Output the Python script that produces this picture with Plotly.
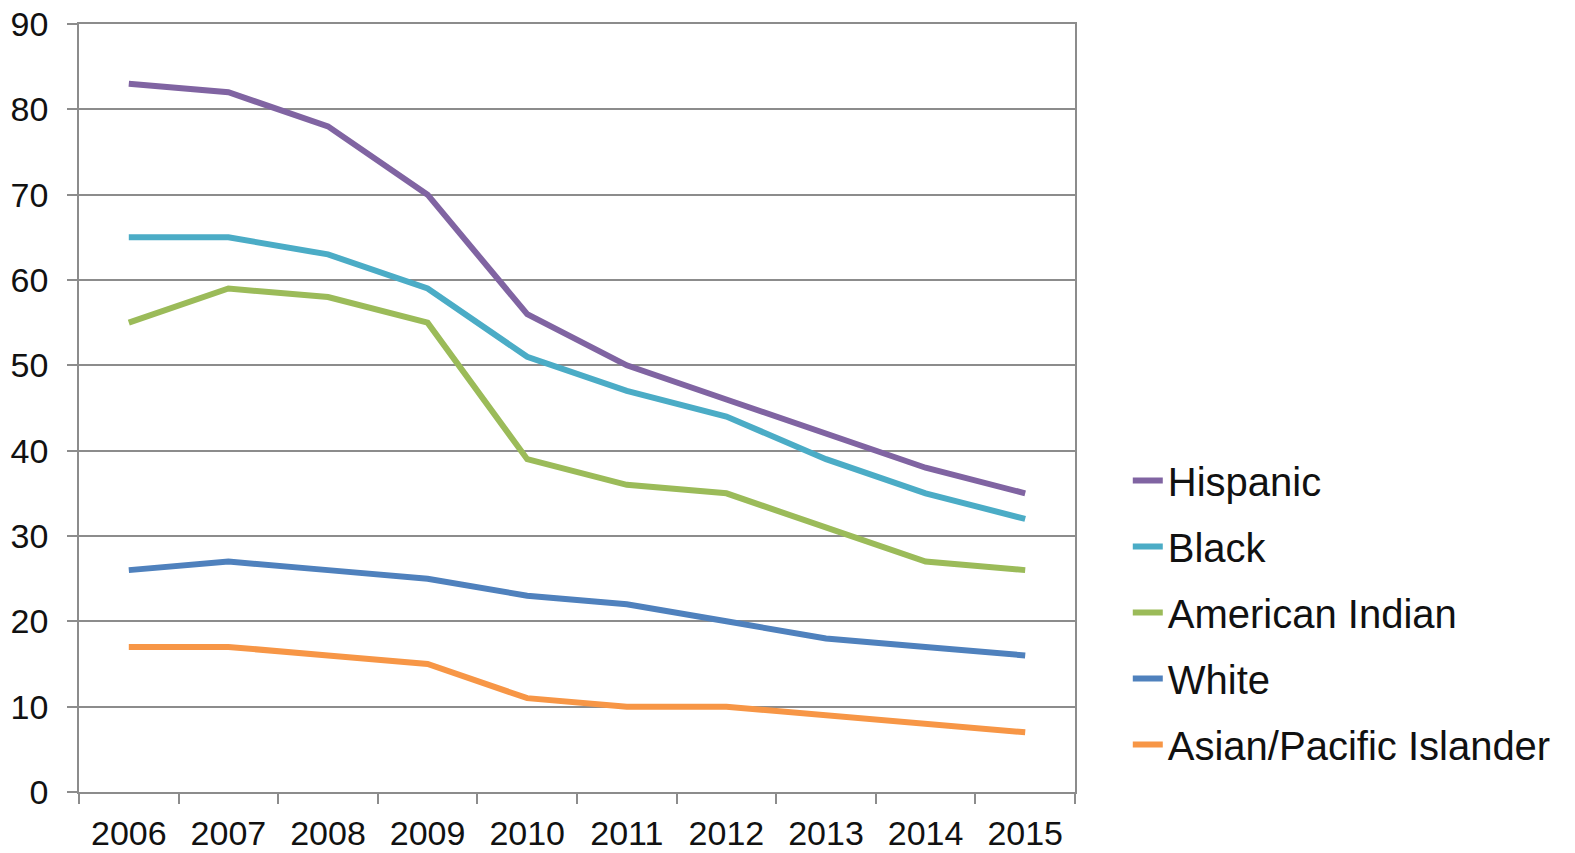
import plotly.graph_objects as go

years = ["2006", "2007", "2008", "2009", "2010", "2011", "2012", "2013", "2014", "2015"]
hispanic = [83, 82, 78, 70, 56, 50, 46, 42, 38, 35]
black = [65, 65, 63, 59, 51, 47, 44, 39, 35, 32]
american_indian = [55, 59, 58, 55, 39, 36, 35, 31, 27, 26]
white = [26, 27, 26, 25, 23, 22, 20, 18, 17, 16]
asian_pi = [17, 17, 16, 15, 11, 10, 10, 9, 8, 7]

series = [
    ("Hispanic", hispanic, "#8064A2"),
    ("Black", black, "#4BACC6"),
    ("American Indian", american_indian, "#9BBB59"),
    ("White", white, "#4F81BD"),
    ("Asian/Pacific Islander", asian_pi, "#F79646"),
]

fig = go.Figure()
for i, (name, vals, color) in enumerate(series):
    fig.add_trace(go.Scatter(
        x=years, y=vals, name=name, mode="lines",
        line=dict(color=color, width=6),
        legendgroup=f"g{i}",
    ))

grid = "#8C8C8C"
fig.update_layout(
    width=1575, height=853,
    margin=dict(l=79, r=500, t=24, b=61, autoexpand=False),
    paper_bgcolor="white", plot_bgcolor="white",
    font=dict(family="Liberation Sans, Arial, sans-serif", size=34, color="#111111"),
    showlegend=True,
    legend=dict(
        x=1.053, xanchor="left", y=0.448, yanchor="top",
        font=dict(size=40, color="#111111"),
        traceorder="grouped", tracegroupgap=11,
        bgcolor="rgba(0,0,0,0)",
    ),
    xaxis=dict(
        type="category", range=[-0.5, 9.5],
        tickson="boundaries", ticks="outside", ticklen=10, tickcolor=grid, tickwidth=1.5,
        showline=True, linecolor=grid, linewidth=1.5, mirror=True,
        showgrid=False, zeroline=False, ticklabelstandoff=10,
        ticklabeloverflow="allow",
    ),
    yaxis=dict(
        range=[0, 90], dtick=10, tick0=0,
        ticks="outside", ticklen=10, tickcolor=grid, tickwidth=1.5,
        showline=True, linecolor=grid, linewidth=1.5, mirror=True,
        showgrid=True, gridcolor=grid, gridwidth=1.5,
        zeroline=False, ticklabelstandoff=12, ticklabeloverflow="allow",
    ),
)

fig.write_html(
    "out.html",
    config={"displayModeBar": False},
    post_script="document.body.style.margin='0';document.body.style.overflow='hidden';",
)
